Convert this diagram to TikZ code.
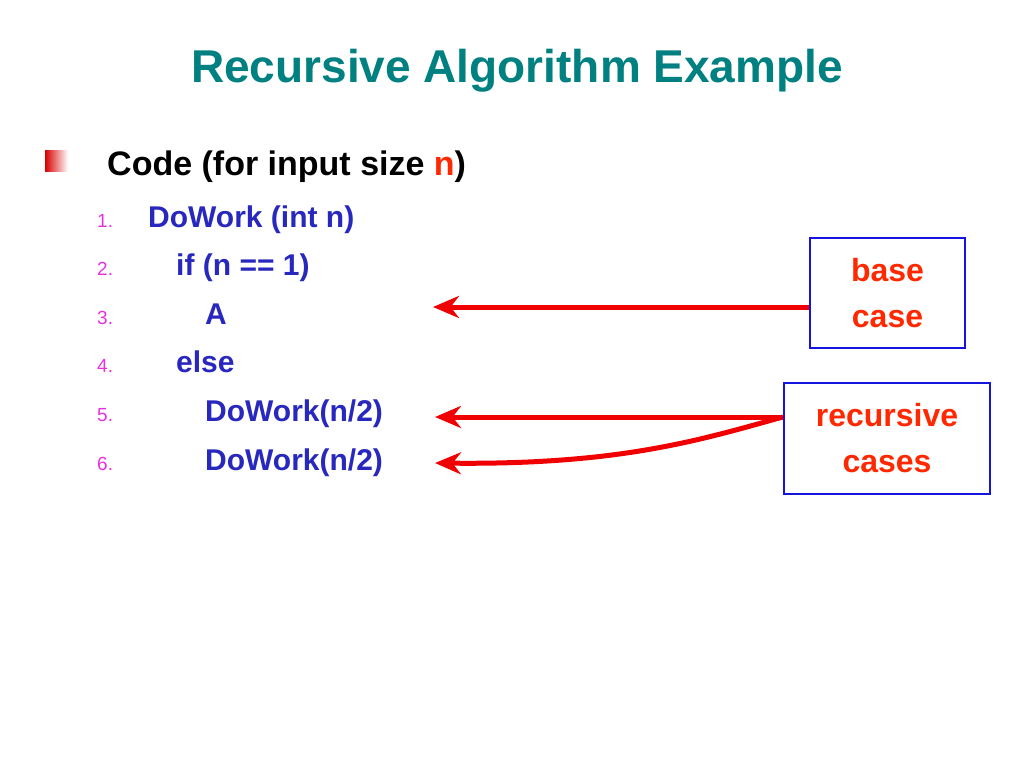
\documentclass[tikz,border=0pt]{standalone}
\usepackage{fontspec}
\setmainfont{Liberation Sans}
\usetikzlibrary{positioning,arrows.meta}
\definecolor{titleteal}{RGB}{0,128,128}
\definecolor{codeblue}{RGB}{40,40,190}
\definecolor{numpink}{RGB}{230,50,220}
\definecolor{arrowred}{RGB}{240,0,0}
\definecolor{labelred}{RGB}{255,40,0}
\definecolor{boxblue}{RGB}{20,20,220}
\tikzset{
    codeline/.style={anchor=base west, font=\fontsize{30}{36}\selectfont\bfseries, text=codeblue, inner sep=0pt},
    numline/.style={anchor=base west, font=\fontsize{19}{22}\selectfont, text=numpink, inner sep=0pt},
    labelbox/.style={draw=boxblue, line width=2.5pt, align=center, text=labelred,
        font=\fontsize{32}{46}\selectfont\bfseries},
    pointer/.style={draw=arrowred, line width=5pt, -{Stealth[length=26pt,width=22pt]}}
}
\begin{document}
\begin{tikzpicture}[x=1pt,y=-1pt]
    \useasboundingbox (0,0) rectangle (1024,768);

    \node[font=\fontsize{46}{54}\selectfont\bfseries, text=titleteal, anchor=base] (title) at (517,82) {Recursive Algorithm Example};

    \shade[left color=red!85!black, right color=white] (45,150) rectangle (68,171);
    \node[anchor=base west, inner sep=0pt, font=\fontsize{34}{40}\selectfont\bfseries] (code) at (107,175) {Code (for input size \textcolor{labelred}{n})};

    \node[numline] (n1) at (97,227) {1.};
    \node[numline] (n2) at (97,275) {2.};
    \node[numline] (n3) at (97,324) {3.};
    \node[numline] (n4) at (97,372) {4.};
    \node[numline] (n5) at (97,421) {5.};
    \node[numline] (n6) at (97,470) {6.};

    \node[codeline] (c1) at (148,227) {DoWork (int n)};
    \node[codeline] (c2) at (176,275) {if (n == 1)};
    \node[codeline] (c3) at (205,324) {A};
    \node[codeline] (c4) at (176,372) {else};
    \node[codeline] (c5) at (205,421) {DoWork(n/2)};
    \node[codeline] (c6) at (205,470) {DoWork(n/2)};

    \node[labelbox, minimum width=155pt, minimum height=110pt] (base) at (887.5,293) {base\\case};
    \node[labelbox, minimum width=206pt, minimum height=111pt] (rec) at (887,438.5) {recursive\\cases};

    \coordinate (a3) at (433,307);
    \coordinate (a5) at (435,417);
    \coordinate (a6) at (435,463);

    \draw[pointer] (base.west |- a3) -- (a3);
    \draw[pointer] (rec.west |- a5) -- (a5);
    \draw[pointer] (rec.west |- a5) .. controls (700,440) and (620,465) .. (a6);
\end{tikzpicture}
\end{document}
